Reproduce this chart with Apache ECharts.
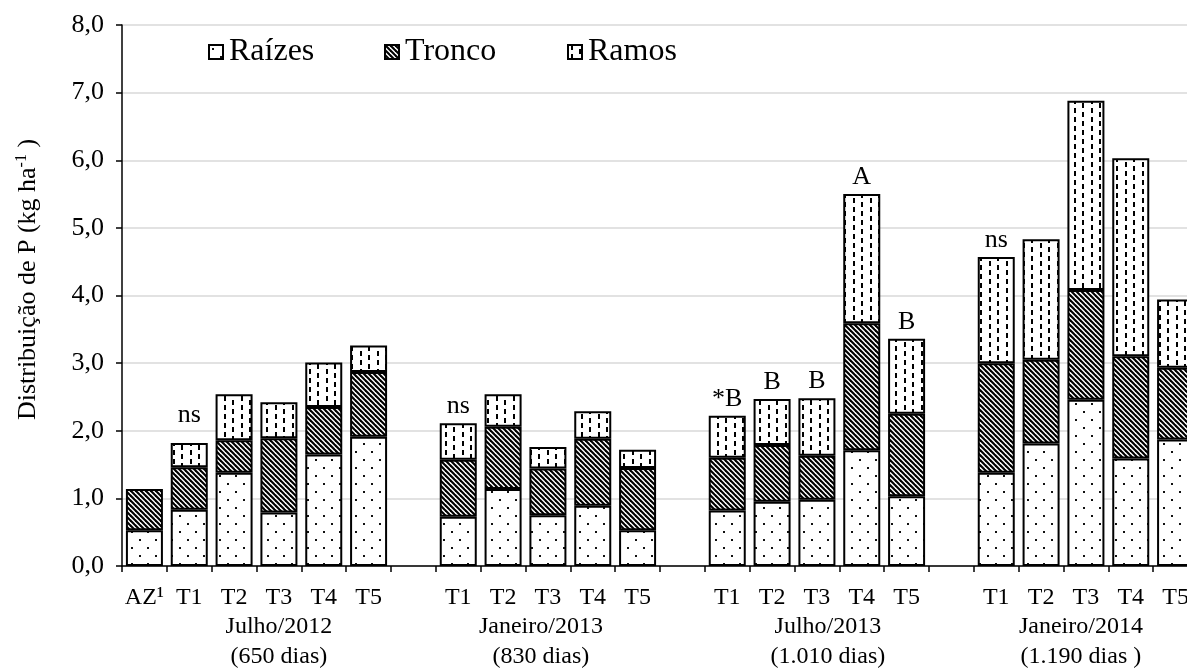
<!DOCTYPE html>
<html>
<head>
<meta charset="utf-8">
<script src="https://cdn.jsdelivr.net/npm/echarts@6/dist/echarts.min.js"></script>
<style>
html,body{margin:0;padding:0;background:#fff;overflow:hidden;width:1187px;height:669px;}
#chart{width:1198px;height:669px;}
</style>
</head>
<body>
<div id="chart"></div>
<script>
// ---- data ----
const categories = ['AZ¹','T1','T2','T3','T4','T5','',
                    'T1','T2','T3','T4','T5','',
                    'T1','T2','T3','T4','T5','',
                    'T1','T2','T3','T4','T5'];
const raizes = [0.53,0.83,1.38,0.79,1.65,1.91,null,
                0.73,1.14,0.75,0.89,0.53,null,
                0.82,0.95,0.98,1.71,1.03,null,
                1.38,1.81,2.46,1.59,1.87];
const tronco = [0.61,0.63,0.48,1.10,0.70,0.96,null,
                0.84,0.92,0.69,0.99,0.92,null,
                0.78,0.84,0.65,1.88,1.22,null,
                1.62,1.24,1.62,1.51,1.06];
const ramos  = [null,0.36,0.68,0.53,0.66,0.39,null,
                0.54,0.48,0.32,0.41,0.27,null,
                0.62,0.68,0.85,1.91,1.11,null,
                1.57,1.78,2.80,2.93,1.01];
const annotations = ['','ns','','','','','',
                     'ns','','','','','',
                     '*B','B','B','A','B','',
                     'ns','','','',''];
const groupNames = ['Julho/2012','Janeiro/2013','Julho/2013','Janeiro/2014'];
const groupDays  = ['(650 dias)','(830 dias)','(1.010 dias)','(1.190 dias )'];
const groupCenterIndex = [3, 9, 15, 21];
const yTicks = [0,1,2,3,4,5,6,7,8];

// ---- patterns ----
function tile(w,h,draw){const c=document.createElement('canvas');c.width=w;c.height=h;const g=c.getContext('2d');g.fillStyle='#fff';g.fillRect(0,0,w,h);draw(g);return c;}
const dotTile = tile(16,16,g=>{g.fillStyle='#111';g.fillRect(3,3,2,2);g.fillRect(11,11,2,2);});
const hatchTile = tile(5,5,g=>{g.strokeStyle='#000';g.lineWidth=2.1;for(let k=-5;k<=5;k+=5){g.beginPath();g.moveTo(k-1,-1);g.lineTo(k+6,6);g.stroke();}});
const dashTile = tile(17,18,g=>{g.fillStyle='#000';g.fillRect(3,0,2,5);g.fillRect(3,9,2,5);g.fillRect(11,4,2,5);g.fillRect(11,13,2,5);});

const FONT = 'Liberation Serif';
const chart = echarts.init(document.getElementById('chart'));

const ramosItems = ramos.map((v,i)=>{
  const a = annotations[i];
  if(!a) return v;
  const lab = {show:true, formatter:a, position:'top', distance:4,
    fontFamily:FONT, fontSize:26, color:'#000'};
  if(i===1) lab.offset=[0,-11];
  return {value:v, label:lab};
});

function barSeries(name, data, img){
  return {
    name, type:'bar', stack:'total', data, barWidth:37,
    itemStyle:{color:{image:img, repeat:'repeat'}, borderColor:'#000', borderWidth:2},
    emphasis:{disabled:true}
  };
}

const legendBase = {orient:'horizontal', top:36, padding:0, icon:'rect',
  itemWidth:14, itemHeight:14, itemGap:0,
  textStyle:{fontFamily:FONT, fontSize:32, color:'#000', padding:[0,0,0,1]}};

chart.setOption({
  animation:false,
  textStyle:{fontFamily:FONT},
  grid:{left:122, top:25, bottom:103, right:0, containLabel:false},
  legend:[
    Object.assign({data:['Raízes'], left:208}, legendBase),
    Object.assign({data:['Tronco'], left:384}, legendBase),
    Object.assign({data:['Ramos'],  left:567}, legendBase)
  ],
  xAxis:{
    type:'category', data:categories,
    axisLine:{lineStyle:{color:'#000', width:1.5}},
    axisTick:{show:true, interval:0, alignWithLabel:false, length:6, lineStyle:{color:'#000', width:1.5}},
    axisLabel:{interval:0, margin:20, fontFamily:FONT, fontSize:24, color:'#000'},
    splitLine:{show:false}
  },
  yAxis:{
    type:'value', min:yTicks[0], max:yTicks[yTicks.length-1], interval:1,
    name:'Distribuição de P (kg ha{sup|-1} )',
    nameLocation:'middle', nameRotate:90, nameGap:80,
    nameTextStyle:{fontFamily:FONT, fontSize:26, color:'#000', padding:[0,0,0,32],
      rich:{sup:{fontFamily:FONT, fontSize:16, color:'#000', padding:[0,0,12,0]}}},
    axisLine:{show:true, lineStyle:{color:'#000', width:1.5}},
    axisTick:{show:true, length:6, lineStyle:{color:'#000', width:1.5}},
    axisLabel:{margin:18, fontFamily:FONT, fontSize:26, color:'#000',
      formatter:v=>v.toFixed(1).replace('.',',')},
    splitLine:{show:true, lineStyle:{color:'#d9d9d9', width:1.5}}
  },
  series:[
    barSeries('Raízes', raizes, dotTile),
    barSeries('Tronco', tronco, hatchTile),
    barSeries('Ramos', ramosItems, dashTile)
  ]
});

// group labels under the axis, positioned through the axis scale
const groupOffsets = [0,-7,11,-5];
const y0 = chart.convertToPixel({yAxisIndex:0}, 0);
const graphics = [];
groupNames.forEach((g,i)=>{
  const x = chart.convertToPixel({xAxisIndex:0}, groupCenterIndex[i]) + groupOffsets[i];
  graphics.push({type:'text', x:x, y:y0+61, style:{text:g, fontFamily:FONT, fontSize:24, fill:'#000', align:'center', verticalAlign:'middle'}});
  graphics.push({type:'text', x:x, y:y0+91, style:{text:groupDays[i], fontFamily:FONT, fontSize:24, fill:'#000', align:'center', verticalAlign:'middle'}});
});
chart.setOption({graphic:graphics});
</script>
</body>
</html>
